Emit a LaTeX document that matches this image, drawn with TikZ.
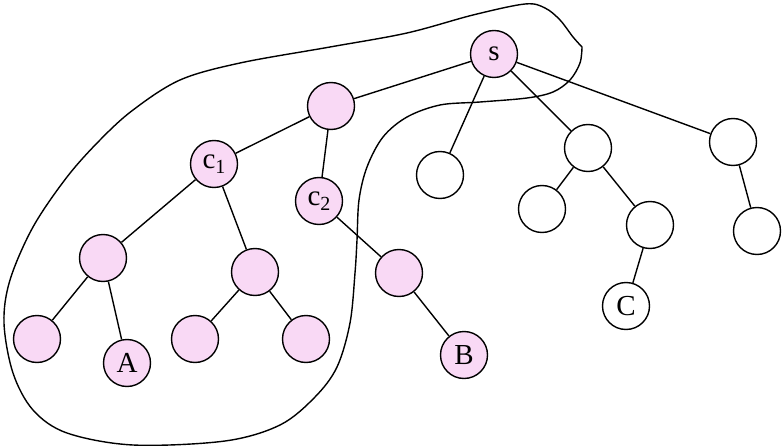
\documentclass[tikz,border=0pt]{standalone}
\usepackage{fontspec}
\setmainfont{Liberation Serif}
\definecolor{pinkfill}{RGB}{249,217,245}
\newcommand{\subone}[1]{\raisebox{-5pt}{\fontsize{20}{20}\selectfont #1}}
\begin{document}
\begin{tikzpicture}[x=1pt,y=-1pt,
  vtx/.style={circle,draw=black,line width=1.4pt,minimum size=47pt,inner sep=0pt,
    font=\fontsize{29}{29}\selectfont},
  pk/.style={vtx,fill=pinkfill},
  wt/.style={vtx,fill=white},
  edge/.style={line width=1.4pt}]
\useasboundingbox (0,0) rectangle (783,446);
% blob
\draw[line width=1.4pt] plot[smooth,tension=0.55] coordinates {(582,47) (573,37) (560,20) (545,8) (525,4) (473,15) (407,33) (330,47) (240,63) (180,80) (133,110) (100,140) (67,177) (33,227) (10,280) (4,323) (13,373) (33,410) (67,433) (133,445) (225,441) (280,425) (315,397) (337,367) (350,323) (355,273) (357,240) (359,200) (367,167) (383,137) (407,117) (440,105) (480,102) (527,98) (553,92) (570,80) (580,63) (582,47)};
% nodes
\node[pk] (s) at (494,54) {s};
\node[pk] (n1) at (331,106) {};
\node[pk] (c1) at (214,164) {c\subone{1}};
\node[pk] (c2) at (319,201) {c\subone{2}};
\node[pk] (lm) at (103,258) {};
\node[pk] (mm) at (255,272) {};
\node[pk] (bp) at (399,273) {};
\node[pk] (l1) at (37,339) {};
\node[pk] (A) at (127,363) {A};
\node[pk] (l2) at (195,339) {};
\node[pk] (l3) at (306,339) {};
\node[pk] (B) at (464,355) {B};
\node[wt] (w1) at (440,175) {};
\node[wt] (w2) at (588,148) {};
\node[wt] (w3) at (733,142) {};
\node[wt] (w4) at (542,209) {};
\node[wt] (w5) at (650,225) {};
\node[wt] (w6) at (757,231) {};
\node[wt] (C) at (626,306) {C};
% edges
\draw[edge] (s) -- (n1);
\draw[edge] (s) -- (w1);
\draw[edge] (s) -- (w2);
\draw[edge] (s) -- (w3);
\draw[edge] (n1) -- (c1);
\draw[edge] (n1) -- (c2);
\draw[edge] (c1) -- (lm);
\draw[edge] (c1) -- (mm);
\draw[edge] (lm) -- (l1);
\draw[edge] (lm) -- (A);
\draw[edge] (mm) -- (l2);
\draw[edge] (mm) -- (l3);
\draw[edge] (c2) -- (bp);
\draw[edge] (bp) -- (B);
\draw[edge] (w2) -- (w4);
\draw[edge] (w2) -- (w5);
\draw[edge] (w5) -- (C);
\draw[edge] (w3) -- (w6);
\end{tikzpicture}
\end{document}
